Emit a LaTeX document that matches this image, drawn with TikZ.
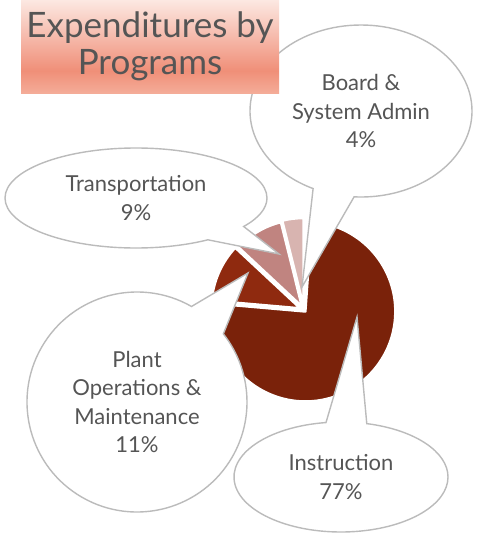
\documentclass[tikz,border=0pt]{standalone}
\usepackage{fontspec}
\setmainfont{Lato}
\usetikzlibrary{shapes.callouts,calc}
\definecolor{instr}{HTML}{7A220A}
\definecolor{plant}{HTML}{8F2A0F}
\definecolor{trans}{HTML}{C08480}
\definecolor{board}{HTML}{D8B4B0}
\definecolor{txtgray}{HTML}{555555}
\definecolor{outl}{HTML}{BBBBBB}
\definecolor{salB}{HTML}{F4AC98}
\definecolor{salD}{HTML}{F08F78}
\definecolor{salT}{HTML}{FCE8E2}
\pgfdeclareverticalshading{titleshade}{100bp}{color(0bp)=(salB); color(25bp)=(salB); color(37bp)=(salD); color(75bp)=(salT); color(100bp)=(salT)}
\tikzset{
  bubble/.style={ellipse callout, draw=outl, line width=1.4pt, fill=white,
    inner sep=0pt, callout pointer arc=22, text=txtgray, align=center,
    font=\fontsize{22}{28.5}\selectfont},
  slice/.style={draw=white, line width=2.5pt, line join=round},
  titlebox/.style={shading=titleshade, draw=none, inner sep=0pt, text=txtgray,
    align=center, font=\fontsize{35}{37}\selectfont}
}
\begin{document}
\begin{tikzpicture}[x=1pt,y=-1pt]
\useasboundingbox (0,0) rectangle (478,533);
\coordinate (C) at (304,310);
% pie slices
\fill[instr, slice] ($(C)+(47.5:2)$) -- ++(-86:90) arc[start angle=-86, end angle=185, radius=90] -- cycle;
\fill[plant, slice] ($(C)+(-156:4)$) -- ++(-175:89) arc[start angle=-175, end angle=-137, radius=89] -- cycle;
\fill[trans, slice] ($(C)+(-120.5:4)$) -- ++(-137:87) arc[start angle=-137, end angle=-104, radius=87] -- cycle;
\fill[board, slice] ($(C)+(-97:4)$) -- ++(-104:88) arc[start angle=-104, end angle=-90, radius=88] -- cycle;
% callouts
\node[bubble, minimum width=262pt, minimum height=100pt, callout absolute pointer={(279,254)}] (transc) at (136,198) {Transportation\\9\%};
\node[bubble, minimum width=222pt, minimum height=172pt, callout absolute pointer={(302,287)}] (boardc) at (361,111) {Board \&\\System Admin\\4\%};
\node[bubble, minimum width=220pt, minimum height=220pt, callout absolute pointer={(248,273)}] (plantc) at (137,402) {Plant\\Operations \&\\Maintenance\\11\%};
\node[bubble, minimum width=214pt, minimum height=110pt, callout absolute pointer={(357,317)}] (instrc) at (341,477) {Instruction\\77\%};
% title
\node[titlebox, minimum width=258pt, minimum height=93pt] (title) at (150,46.5) {Expenditures by\\Programs};
\end{tikzpicture}
\end{document}
